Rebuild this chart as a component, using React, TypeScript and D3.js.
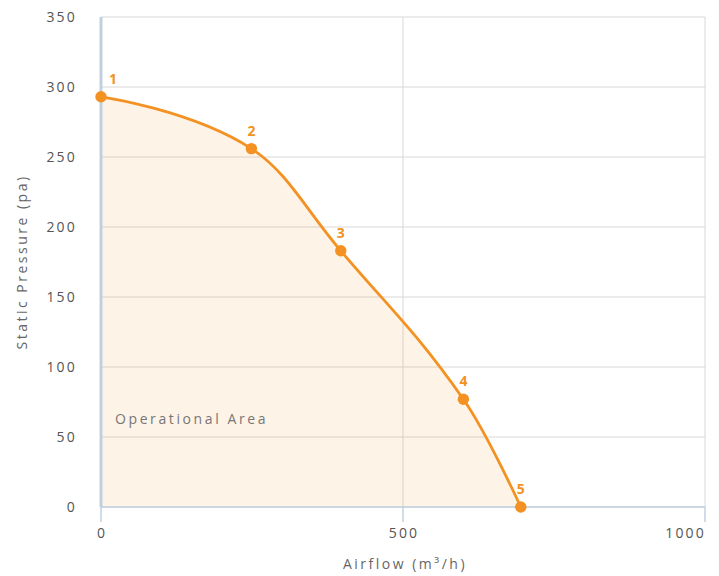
import React from "react";
import * as d3 from "d3";

const airflow = [0, 249, 397, 600, 695];
const pressure = [293, 256, 183, 77, 0];
const pointLabels = ["1", "2", "3", "4", "5"];
const yTicks = [0, 50, 100, 150, 200, 250, 300, 350];
const xTicks = [0, 500, 1000];

const W = 719;
const H = 576;
const ORANGE = "#f39222";
const FONT = "'Open Sans', 'DejaVu Sans', sans-serif";

function highchartsSpline(pts: [number, number][]): string {
  const smoothing = 1.5;
  const denom = smoothing + 1;
  const rc: ([number, number] | null)[] = pts.map(() => null);
  let d = `M${pts[0][0]},${pts[0][1]}`;
  for (let i = 1; i < pts.length; i++) {
    const [px, py] = pts[i];
    const [lx, ly] = pts[i - 1];
    let lcx = px, lcy = py;
    if (i < pts.length - 1) {
      const [nx, ny] = pts[i + 1];
      lcx = (smoothing * px + lx) / denom;
      lcy = (smoothing * py + ly) / denom;
      const rcx = (smoothing * px + nx) / denom;
      let rcy = (smoothing * py + ny) / denom;
      let corr = 0;
      if (rcx !== lcx) {
        corr = ((rcy - lcy) * (rcx - px)) / (rcx - lcx) + py - rcy;
      }
      lcy += corr;
      rcy += corr;
      if (lcy > ly && lcy > py) {
        lcy = Math.max(ly, py);
        rcy = 2 * py - lcy;
      } else if (lcy < ly && lcy < py) {
        lcy = Math.min(ly, py);
        rcy = 2 * py - lcy;
      }
      if (rcy > ny && rcy > py) {
        rcy = Math.max(ny, py);
        lcy = 2 * py - rcy;
      } else if (rcy < ny && rcy < py) {
        rcy = Math.min(ny, py);
        lcy = 2 * py - rcy;
      }
      rc[i] = [rcx, rcy];
    }
    const prev = rc[i - 1] || [lx, ly];
    d += `C${prev[0]},${prev[1]},${lcx},${lcy},${px},${py}`;
  }
  return d;
}

export default function App() {
  const x = d3.scaleLinear().domain([0, 1000]).range([101, 705]);
  const y = d3.scaleLinear().domain([0, 350]).range([507, 17]);

  const pts: [number, number][] = airflow.map((a, i) => [x(a), y(pressure[i])]);
  const linePath = highchartsSpline(pts);
  const last = pts[pts.length - 1];
  const areaPath = `${linePath}L${last[0]},${y(0)}L${pts[0][0]},${y(0)}Z`;

  return (
    <svg width={W} height={H} style={{ position: "absolute", left: 0, top: 0, background: "#fff" }}>
      {yTicks.map((t) => (
        <line key={"hg" + t} x1={x(0)} x2={x(1000)} y1={y(t)} y2={y(t)} stroke="#d8d8d8" strokeWidth={1} />
      ))}
      {xTicks.slice(1).map((t) => (
        <line key={"vg" + t} x1={x(t)} x2={x(t)} y1={y(350)} y2={y(0)} stroke="#d8d8d8" strokeWidth={1} />
      ))}
      <path d={areaPath} fill={ORANGE} fillOpacity={0.11} stroke="none" />
      <line x1={x(0)} x2={x(1000)} y1={y(0)} y2={y(0)} stroke="#c0d0e0" strokeWidth={1.5} />
      <line x1={x(0)} x2={x(0)} y1={y(350)} y2={y(0)} stroke="#c0d0e0" strokeWidth={3} />
      {xTicks.map((t) => (
        <line key={"xt" + t} x1={x(t)} x2={x(t)} y1={y(0)} y2={y(0) + 15} stroke="#c0d0e0" strokeWidth={1.5} />
      ))}
      {yTicks.map((t) => (
        <text key={"yl" + t} x={77} y={y(t) + 5} textAnchor="end" fontFamily={FONT} fontSize={14} letterSpacing={2.2} fill="#555">
          {t}
        </text>
      ))}
      {xTicks.map((t, i) => (
        <text
          key={"xl" + t}
          x={i === xTicks.length - 1 ? x(t) + 1 : x(t) + 1}
          y={538}
          textAnchor={i === xTicks.length - 1 ? "end" : "middle"}
          fontFamily={FONT}
          fontSize={14}
          letterSpacing={2.2}
          fill="#555"
        >
          {t}
        </text>
      ))}
      <text
        transform={`translate(27,${y(175)}) rotate(-90)`}
        textAnchor="middle"
        fontFamily={FONT}
        fontSize={14}
        letterSpacing={2.5}
        fill="#666"
      >
        Static Pressure (pa)
      </text>
      <text x={x(500) + 2} y={569} textAnchor="middle" fontFamily={FONT} fontSize={14} letterSpacing={2.5} fill="#666">
        Airflow (m³/h)
      </text>
      <text x={115} y={424} fontFamily={FONT} fontSize={14} letterSpacing={2.6} fill="#777">
        Operational Area
      </text>
      <path d={linePath} fill="none" stroke={ORANGE} strokeWidth={2.8} />
      {pts.map((p, i) => (
        <circle key={"m" + i} cx={p[0]} cy={p[1]} r={5.7} fill={ORANGE} />
      ))}
      {pts.map((p, i) => (
        <text
          key={"pl" + i}
          x={i === 0 ? p[0] + 12 : p[0]}
          y={p[1] - 13}
          textAnchor="middle"
          fontFamily={FONT}
          fontSize={14}
          fontWeight="bold"
          fill={ORANGE}
        >
          {pointLabels[i]}
        </text>
      ))}
    </svg>
  );
}
